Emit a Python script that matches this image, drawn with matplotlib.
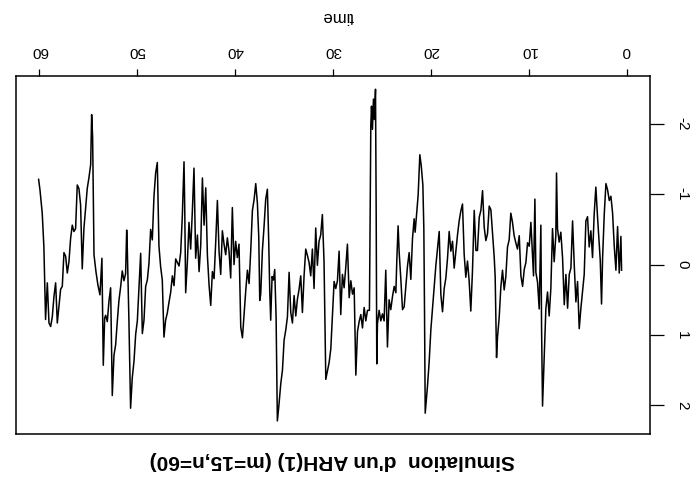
import numpy as np
import matplotlib
matplotlib.use("Agg")
import matplotlib.pyplot as plt

plt.rcParams['font.family'] = ['Liberation Sans', 'DejaVu Sans']
plt.rcParams['axes.unicode_minus'] = False

# simulated ARH(1) path (m=15 obs per unit, n=60 units)
time_0_15 = [0.51, 0.58, 0.75, 0.92, 1.09, 1.26, 1.43, 1.60, 1.77, 1.94, 2.11, 2.28, 2.45, 2.56,
             2.69, 2.97, 3.14, 3.31, 3.48, 3.65, 3.82, 3.99, 4.16, 4.33, 4.50, 4.67, 4.84, 5.01,
             5.18, 5.35, 5.52, 5.69, 5.86, 6.03, 6.20, 6.37, 6.54, 6.72, 6.89, 7.06, 7.16, 7.23,
             7.40, 7.57, 7.74, 7.91, 8.08, 8.25, 8.42, 8.59, 8.69, 8.76, 8.93, 9.10, 9.27, 9.37,
             9.51, 9.68, 9.78, 9.95, 10.12, 10.29, 10.46, 10.63, 10.80, 10.97, 11.15, 11.32, 11.49,
             11.66, 11.83, 12.00, 12.17, 12.34, 12.51, 12.68, 12.85, 13.02, 13.19, 13.29, 13.43,
             13.53, 13.70, 13.87, 14.04, 14.21, 14.38, 14.55, 14.72, 14.89, 15.06, 15.24]
value_0_15 = [0.08, -0.40, 0.12, -0.54, 0.08, -0.26, -0.73, -0.97, -0.91, -1.06, -1.15, -0.72, -0.10, 0.56,
              -0.06, -0.68, -1.10, -0.72, -0.10, -0.48, -0.25, -0.68, -0.62, 0.14, 0.38, 0.62, 0.91, 0.24,
              0.53, 0.00, -0.62, 0.05, 0.14, 0.62, 0.14, 0.57, -0.09, -0.46, -0.32, -0.51, -1.30, -0.42,
              -0.04, -0.51, 0.34, 0.73, 0.39, 0.63, 1.34, 2.01, 0.87, -0.56, 0.63, 0.25, 0.11, -0.93,
              0.16, -0.31, -0.60, -0.26, -0.31, -0.03, 0.07, 0.31, 0.16, -0.41, -0.22, -0.31, -0.41,
              -0.60, -0.73, -0.35, -0.25, 0.17, 0.36, 0.08, 0.32, 0.75, 1.03, 1.32, 0.17,
              -0.11, -0.44, -0.78, -0.83, -0.44, -0.34, -0.53, -1.05, -0.77, -0.67, -0.20]

time_15_30 = [15.40, 15.57, 15.75, 15.92, 16.09, 16.26, 16.43, 16.60, 16.77, 16.94, 17.11, 17.28, 17.45,
              17.62, 17.79, 17.96, 18.13, 18.30, 18.47, 18.64, 18.81, 18.98, 19.15, 19.49, 19.73, 20.00,
              20.18, 20.35, 20.58, 20.65, 20.72, 20.82, 20.99, 21.13, 21.30, 21.44, 21.61, 21.71, 21.88,
              22.05, 22.22, 22.39, 22.56, 22.73, 22.90, 23.07, 23.24, 23.35, 23.48, 23.58, 23.75, 23.92,
              24.10, 24.27, 24.44, 24.61, 24.78, 24.95, 25.12, 25.29, 25.46, 25.53, 25.59, 25.66, 25.77,
              25.87, 25.97, 26.07, 26.14, 26.21, 26.28, 26.48, 26.65, 26.82, 26.99, 27.16, 27.33, 27.50,
              27.67, 27.84, 28.01, 28.18, 28.35, 28.53, 28.70, 28.87, 29.04, 29.21, 29.38, 29.55, 29.72,
              29.89, 30.06, 30.23, 30.40]
value_15_30 = [-0.20, -0.77, 0.09, 0.66, 0.23, -0.05, 0.18, -0.15, -0.86, -0.76, -0.62, -0.42, -0.19,
               0.05, -0.33, -0.19, -0.47, -0.09, 0.19, 0.34, 0.67, 0.43, -0.47, 0.01, 0.44, 0.92,
               1.39, 1.73, 2.11, 0.68, -0.51, -1.13, -1.41, -1.56, -0.99, -0.75, -0.46, -0.65, -0.37,
               0.21, -0.17, 0.02, 0.31, 0.60, 0.64, 0.21, -0.17, -0.55, -0.07, 0.40, 0.31, 0.45,
               0.64, 0.50, 1.17, 0.08, 0.80, 0.70, 0.80, 0.65, 0.84, 1.41, -0.73, -2.49, -2.06,
               -2.35, -1.92, -2.25, -1.97, -0.73, 0.65, 0.65, 0.80, 0.61, 0.90, 0.71, 0.81, 0.95,
               1.57, 0.33, 0.42, 0.23, 0.47, -0.29, 0.04, 0.33, 0.14, 0.71, -0.19, 0.23, 0.34,
               0.24, 0.72, 1.20, 1.39]

time_30_45 = [30.74, 30.92, 31.09, 31.26, 31.43, 31.60, 31.77, 31.94, 32.11, 32.28, 32.45, 32.62, 32.79,
              32.96, 33.13, 33.30, 33.47, 33.64, 33.81, 33.98, 34.15, 34.32, 34.49, 34.66, 34.83, 35.00,
              35.17, 35.34, 35.52, 35.69, 35.82, 35.96, 36.09, 36.23, 36.37, 36.47, 36.57, 36.71, 36.88,
              37.05, 37.22, 37.39, 37.49, 37.59, 37.73, 37.90, 38.07, 38.24, 38.41, 38.58, 38.75, 38.92,
              39.09, 39.26, 39.43, 39.61, 39.78, 39.95, 40.12, 40.29, 40.46, 40.63, 40.80, 40.97, 41.14,
              41.31, 41.48, 41.65, 41.82, 41.99, 42.16, 42.33, 42.50, 42.67, 42.84, 43.01, 43.18, 43.35,
              43.52, 43.69, 43.86, 44.04, 44.21, 44.38, 44.55, 44.72, 44.89, 45.06, 45.16, 45.23, 45.40,
              45.57, 45.74]
value_30_45 = [1.63, -0.04, -0.71, -0.42, -0.33, 0.01, -0.52, 0.34, -0.22, 0.16, -0.03, -0.13, -0.22,
               0.16, 0.68, 0.16, 0.35, 0.49, 0.73, 0.44, 0.83, 0.68, 0.11, 0.74, 0.93, 1.07,
               1.50, 1.69, 1.98, 2.22, 0.74, 0.07, 0.22, 0.17, 0.79, 0.36, -0.31, -1.07, -0.93,
               -0.54, -0.20, 0.42, 0.51, -0.39, -0.87, -1.15, -0.92, -0.77, -0.20, 0.27, 0.08, 0.37,
               0.70, 1.04, 0.89, -0.29, -0.10, -0.33, 0.00, -0.81, 0.19, -0.19, -0.38, -0.14, -0.29,
               -0.48, 0.14, -0.19, -0.91, -0.32, 0.20, 0.10, 0.58, 0.29, -0.13, -1.09, -0.56, -1.23,
               -0.28, 0.10, -0.42, -0.09, -1.37, -0.75, -0.22, -0.60, -0.03, 0.40, -0.84, -1.46, -0.70,
               -0.17, 0.02]

time_45_60 = [46.08, 46.25, 46.42, 46.60, 46.77, 46.94, 47.11, 47.28, 47.45, 47.62, 47.79, 47.96, 48.13,
              48.30, 48.47, 48.64, 48.81, 48.98, 49.15, 49.32, 49.49, 49.66, 49.83, 50.00, 50.17, 50.34,
              50.52, 50.69, 50.86, 51.03, 51.09, 51.20, 51.37, 51.54, 51.71, 51.88, 52.05, 52.22, 52.39,
              52.56, 52.73, 52.90, 53.07, 53.24, 53.34, 53.48, 53.62, 53.82, 54.03, 54.23, 54.43, 54.57,
              54.67, 54.77, 54.95, 55.12, 55.29, 55.46, 55.63, 55.80, 55.97, 56.14, 56.31, 56.48, 56.65,
              56.82, 56.99, 57.16, 57.33, 57.50, 57.67, 57.84, 58.01, 58.18, 58.35, 58.52, 58.69, 58.86,
              59.03, 59.20, 59.38, 59.55, 59.72, 59.82, 59.95, 60.09]
value_45_60 = [-0.08, 0.30, 0.16, 0.40, 0.54, 0.69, 0.79, 1.03, 0.22, 0.03, -0.26, -1.45, -1.30,
               -0.97, -0.35, -0.50, -0.02, 0.22, 0.31, 0.79, 0.98, -0.16, 0.32, 0.80, 0.99, 1.37,
               1.61, 2.04, 0.80, -0.25, -0.49, 0.13, 0.23, 0.09, 0.32, 0.51, 0.81, 1.14, 1.29,
               1.86, 0.33, 0.52, 0.81, 0.72, 0.76, 1.43, -0.09, 0.43, 0.29, 0.10, -0.14, -1.81,
               -2.13, -1.42, -1.23, -1.08, -0.80, -0.51, 0.06, -0.85, -1.08, -1.13, -0.51, -0.47, -0.56,
               -0.37, -0.04, 0.12, -0.12, -0.17, 0.31, 0.35, 0.59, 0.83, 0.26, 0.45, 0.74, 0.88,
               0.83, 0.26, 0.78, -0.25, -0.73, -0.87, -1.06, -1.21]

x_ticks = [0, 10, 20, 30, 40, 50, 60]
y_ticks = [-2, -1, 0, 1, 2]

title = "Simulation  d'un ARH(1) (m=15,n=60)"

t = np.concatenate([time_0_15, time_15_30, time_30_45, time_45_60])
y = np.concatenate([value_0_15, value_15_30, value_30_45, value_45_60])

fig = plt.figure(figsize=(6.96, 4.84), dpi=100)
ax = fig.add_axes([0.023, 0.103, 0.911, 0.740])
ax.plot(t, y, color='black', lw=1.1)

# R style 4% padding, and the scan is upside down
rng = y.max() - y.min()
ax.set_xlim(62.4, -2.4)
ax.set_ylim(y.max() + 0.04 * rng, y.min() - 0.04 * rng)

ax.xaxis.tick_top()
ax.yaxis.tick_right()
ax.set_xticks(x_ticks)
ax.set_yticks(y_ticks)
ax.set_xticklabels([str(v) for v in x_ticks], rotation=180, fontsize=11)
ax.set_yticklabels([str(v) for v in y_ticks], rotation=-90, fontsize=11, va='center')
ax.tick_params(axis='x', direction='out', length=5, width=0.9, pad=8)
ax.tick_params(axis='y', direction='out', length=10, width=0.9, pad=8)
for s in ax.spines.values():
    s.set_linewidth(1.1)

fig.text(338 / 696, 1 - 16 / 484, "time", rotation=180, ha='center', va='center', fontsize=12)
fig.text(332 / 696, 1 - 460 / 484, title, rotation=180, ha='center', va='center',
         fontsize=15, fontweight='bold')

fig.savefig("out.png", dpi=100)
